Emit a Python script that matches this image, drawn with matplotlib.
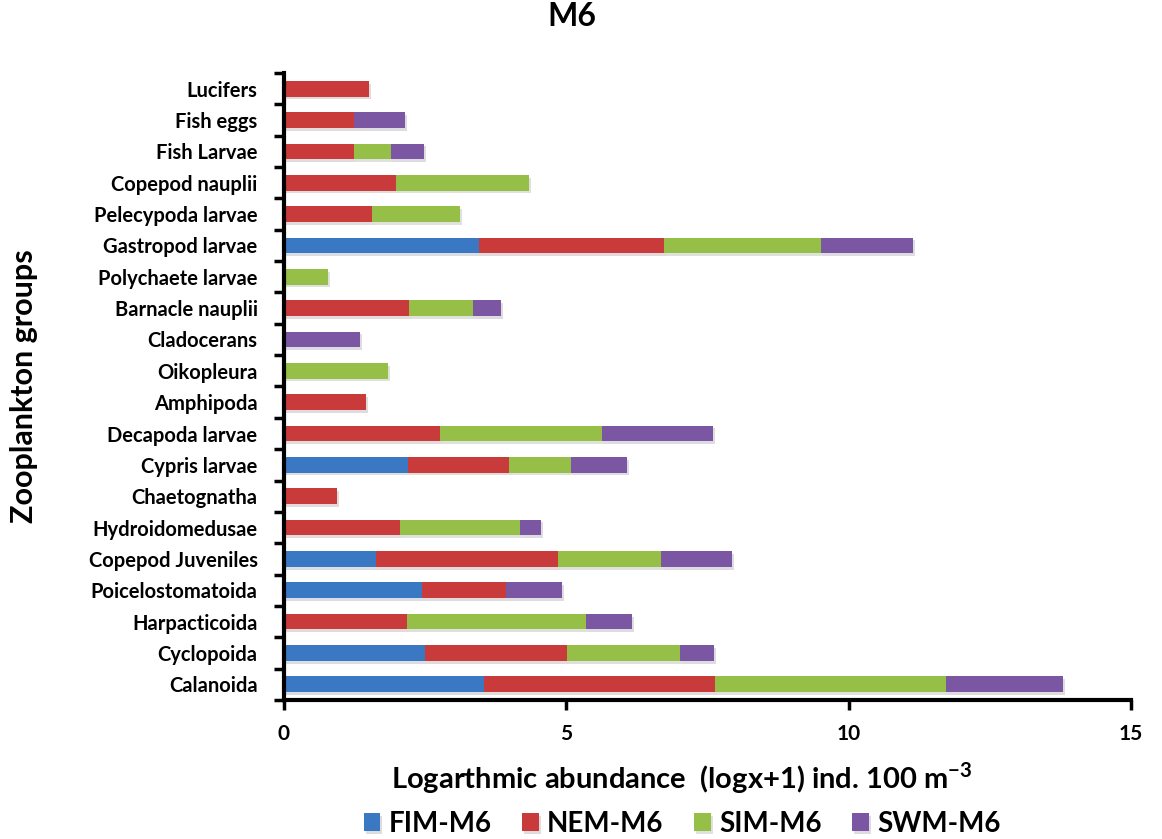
import matplotlib.pyplot as plt
import matplotlib.patheffects as pe
import numpy as np

# Zooplankton groups, bottom to top as drawn
groups = ["Calanoida", "Cyclopoida", "Harpacticoida", "Poicelostomatoida",
          "Copepod Juveniles", "Hydroidomedusae", "Chaetognatha", "Cypris larvae",
          "Decapoda larvae", "Amphipoda", "Oikopleura", "Cladocerans",
          "Barnacle nauplii", "Polychaete larvae", "Gastropod larvae",
          "Pelecypoda larvae", "Copepod nauplii", "Fish Larvae", "Fish eggs", "Lucifers"]

fim = [3.54, 2.50, 0, 2.44, 1.63, 0, 0, 2.20, 0, 0, 0, 0, 0, 0, 3.45, 0, 0, 0, 0, 0]
nem = [4.09, 2.51, 2.18, 1.49, 3.22, 2.05, 0.94, 1.78, 2.76, 1.45, 0, 0, 2.21, 0, 3.28, 1.56, 1.98, 1.24, 1.24, 1.51]
sim = [4.09, 2.00, 3.17, 0, 1.83, 2.13, 0, 1.10, 2.87, 0, 1.84, 0, 1.14, 0.78, 2.78, 1.56, 2.36, 0.65, 0, 0]
swm = [2.07, 0.60, 0.81, 0.99, 1.25, 0.37, 0, 0.99, 1.97, 0, 0, 1.35, 0.49, 0, 1.63, 0, 0, 0.59, 0.90, 0]

series = [("FIM-M6", fim, "#3A78C3"), ("NEM-M6", nem, "#C83B3A"),
          ("SIM-M6", sim, "#95BF47"), ("SWM-M6", swm, "#7B57A3")]

plt.rcParams["font.family"] = ["Lato", "DejaVu Sans"]
plt.rcParams["font.weight"] = "bold"
plt.rcParams["mathtext.fontset"] = "custom"
plt.rcParams["mathtext.rm"] = "Lato:bold"
plt.rcParams["mathtext.bf"] = "Lato:bold"

fig = plt.figure(figsize=(11.62, 8.39), dpi=100)
ax = fig.add_axes([0.2444, 0.1657, 0.7289, 0.7473])

y = np.arange(len(groups))
left = np.zeros(len(groups))
shadow = [pe.SimplePatchShadow(offset=(1.5, -2), alpha=0.15), pe.Normal()]
for name, vals, color in series:
    vals = np.array(vals)
    bars = ax.barh(y, vals, left=left, height=0.5, color=color, label=name,
                   edgecolor="none")
    for b in bars:
        b.set_path_effects(shadow)
    left += vals

ax.set_xlim(0, 15)
ax.set_ylim(-0.5, len(groups) - 0.5)
ax.set_xticks([0, 5, 10, 15])
ax.set_yticks(y)
ax.set_yticklabels(groups, fontsize=14.5, fontweight="bold")
ax.set_yticks(np.arange(-0.5, len(groups)), minor=True)
ax.tick_params(axis="y", which="major", length=0, pad=19)
ax.tick_params(axis="y", which="minor", length=7, width=2.5, direction="out")
ax.tick_params(axis="x", length=7, width=2.5, direction="out", labelsize=15, pad=10)
for lab in ax.get_xticklabels():
    lab.set_fontweight("bold")

for side in ["top", "right"]:
    ax.spines[side].set_visible(False)
for side in ["left", "bottom"]:
    ax.spines[side].set_linewidth(3)

ax.set_xlabel(r"Logarthmic abundance  (logx+1) ind. 100 m$^{-3}$",
              fontsize=21, fontweight="bold", labelpad=12, x=0.47)
ax.set_ylabel("Zooplankton groups", fontsize=22, fontweight="bold")
ax.yaxis.set_label_coords(-0.290, 0.5)
ax.set_title("M6", fontsize=23, fontweight="bold", pad=34, x=0.34)

ax.legend(loc="upper center", bbox_to_anchor=(0.47, -0.155), ncol=4, frameon=False,
          fontsize=20, handlelength=0.6, handleheight=0.6, handletextpad=0.3,
          columnspacing=1.1, borderpad=0)

fig.savefig("out.png", dpi=100)
